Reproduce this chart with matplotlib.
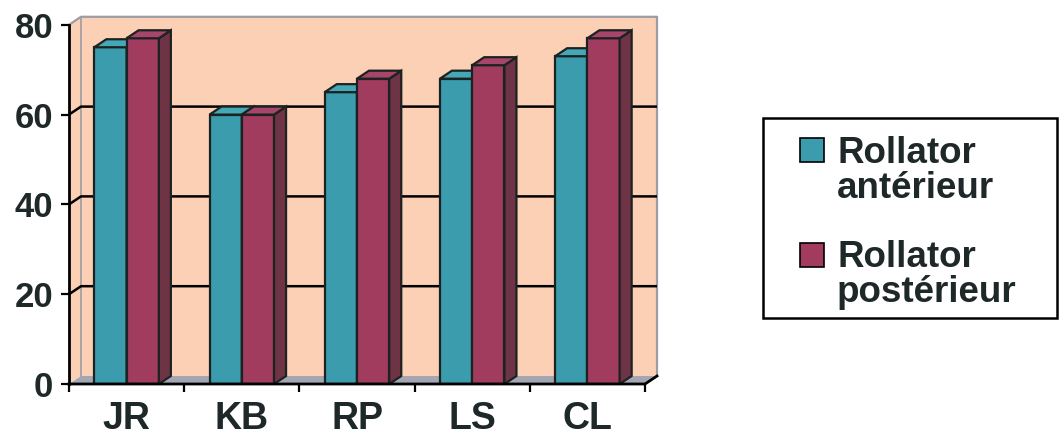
import matplotlib
matplotlib.use("Agg")
import matplotlib.pyplot as plt
from matplotlib.patches import Polygon, Rectangle

categories = ['JR', 'KB', 'RP', 'LS', 'CL']
anterieur = [75, 60, 65, 68, 73]
posterieur = [77, 60, 68, 71, 77]
series_labels = [['Rollator', 'antérieur'], ['Rollator', 'postérieur']]
yticks = [0, 20, 40, 60, 80]

front_colors = ['#3A9CAC', '#A23C5E']
side_colors = ['#2A7480', '#6E3446']
top_colors = ['#44A8B6', '#A8456A']
wall_color = '#FCD0B4'
floor_color = '#A4A6B2'
grey_edge = '#9C9CA4'
edge = '#1C2222'
txt_color = '#1E2828'
FONT = 'Liberation Sans'

W, H = 1060, 445
fig = plt.figure(figsize=(W / 100, H / 100), dpi=100)
PXX = 115.2   # px per category
PXY = 4.49    # px per unit
DX = 12 / PXX
DY = 8 / PXY
n = len(categories)
ax = fig.add_axes([69 / W, 61 / H, (n + DX) * PXX / W, (80 + DY) * PXY / H])
ax.set_xlim(0, n + DX)
ax.set_ylim(0, 80 + DY)
for s in ax.spines.values():
    s.set_visible(False)
ax.patch.set_visible(False)

ymax = yticks[-1]
# walls
ax.add_patch(Polygon([(DX, DY), (n + DX, DY), (n + DX, ymax + DY), (DX, ymax + DY)],
                     closed=True, facecolor=wall_color, edgecolor='none', zorder=0))
ax.add_patch(Polygon([(0, 0), (DX, DY), (DX, ymax + DY), (0, ymax)],
                     closed=True, facecolor=wall_color, edgecolor='none', zorder=0))
ax.add_patch(Polygon([(0, 0), (n, 0), (n + DX, DY), (DX, DY)],
                     closed=True, facecolor=floor_color, edgecolor='none', zorder=0.5))
# wall borders
ax.plot([0, DX, n + DX, n + DX], [ymax, ymax + DY, ymax + DY, DY], color=grey_edge, lw=1.6,
        zorder=1, clip_on=False)
ax.plot([DX, DX], [DY, ymax + DY], color=grey_edge, lw=1.2, zorder=1)
# gridlines
for v in yticks[1:-1]:
    ax.plot([0, DX, n + DX], [v, v + DY, v + DY], color='black', lw=1.8, zorder=1)

# bars
bw = 0.28
for s_idx, vals in enumerate([anterieur, posterieur]):
    z = 3 + s_idx
    xs = [i + 0.5 - bw + s_idx * bw for i in range(n)]
    ax.bar(xs, vals, width=bw, align='edge', color=front_colors[s_idx],
           edgecolor=edge, linewidth=1.6, zorder=z)
    for x0, h in zip(xs, vals):
        ax.add_patch(Polygon([(x0 + bw, 0), (x0 + bw + DX, DY), (x0 + bw + DX, h + DY), (x0 + bw, h)],
                             closed=True, facecolor=side_colors[s_idx], edgecolor=edge,
                             linewidth=1.6, zorder=z))
        ax.add_patch(Polygon([(x0, h), (x0 + bw, h), (x0 + bw + DX, h + DY), (x0 + DX, h + DY)],
                             closed=True, facecolor=top_colors[s_idx], edgecolor=edge,
                             linewidth=1.6, zorder=z))

# axes lines
ax.plot([0, 0], [0, ymax], color='black', lw=2, zorder=6, clip_on=False)
ax.plot([0, n, n + DX], [0, 0, DY], color='black', lw=2, zorder=6, clip_on=False)

ax.set_yticks(yticks)
ax.set_yticklabels([str(v) for v in yticks], fontsize=25, fontweight='bold',
                   family=FONT, color=txt_color)
ax.tick_params(axis='y', length=5.5, width=1.6, direction='out', pad=6, colors='black')
for lab in ax.get_yticklabels():
    lab.set_color(txt_color)

ax.set_xticks(range(n + 1))
ax.set_xticklabels([''] * (n + 1))
ax.set_xticks([i + 0.5 for i in range(n)], minor=True)
ax.set_xticklabels(categories, minor=True, fontsize=27, fontweight='bold',
                   family=FONT, color=txt_color)
ax.tick_params(axis='x', which='major', length=5.5, width=1.6, direction='out')
ax.tick_params(axis='x', which='minor', length=0, pad=12)

# legend (manual)
fig.patches.append(Rectangle((763 / W, (H - 318) / H), 294 / W, 200 / H,
                             transform=fig.transFigure, facecolor='white',
                             edgecolor='black', linewidth=1.8))
sq_tops = [138, 243]
baselines = [[163, 198], [267, 302]]
for s_idx in range(2):
    top = sq_tops[s_idx]
    fig.patches.append(Rectangle((800 / W, (H - top - 24) / H), 24 / W, 24 / H,
                                 transform=fig.transFigure, facecolor=front_colors[s_idx],
                                 edgecolor='black', linewidth=1.2))
    for k, line in enumerate(series_labels[s_idx]):
        fig.text(837 / W, (H - baselines[s_idx][k]) / H, line, fontsize=26.5, fontweight='bold',
                 family=FONT, color=txt_color, va='baseline', ha='left')

fig.savefig('out.png', dpi=100, facecolor='white')
